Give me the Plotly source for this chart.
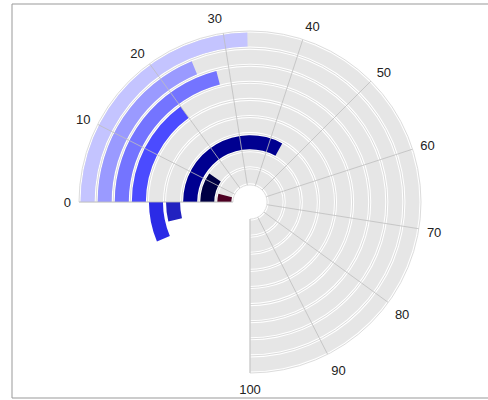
import plotly.graph_objects as go

# ---- data (inner ring first) ----
categories = ["c1", "c2", "c3", "c4", "c5", "c6", "c7", "c8", "c9"]
values = [5.5, 13, 44, -5, -8.5, 20, 28, 25, 33]
colors = ["#4d0022", "#000044", "#000090", "#2222c0", "#2b2be6",
          "#4b4bff", "#7474ff", "#9a9aff", "#c4c4ff"]
tick_values = [0, 10, 20, 30, 40, 50, 60, 70, 80, 90, 100]
tick_labels = [str(t) for t in tick_values]
scale_max = 100

# ---- geometry ----
SPAN = 270.0
K = SPAN / scale_max
W, H = 488, 400
CX, CY, R = 250, 202, 171
GAP = 0.18
n = len(categories)

dom_x = [(CX - R) / W, (CX + R) / W]
dom_y = [1 - (CY + R) / H, 1 - (CY - R) / H]

fig = go.Figure()

# background tracks
fig.add_trace(go.Barpolar(
    r=[1 - GAP] * n,
    base=[i + GAP / 2 for i in range(n)],
    theta=[SPAN / 2] * n,
    width=[SPAN] * n,
    marker=dict(color="#e6e6e6", line=dict(width=0)),
    hoverinfo="skip",
    subplot="polar",
    showlegend=False,
))

# value bars
fig.add_trace(go.Barpolar(
    r=[1 - GAP] * n,
    base=[i + GAP / 2 for i in range(n)],
    theta=[v * K / 2 for v in values],
    width=[abs(v) * K for v in values],
    marker=dict(color=colors, line=dict(width=0)),
    text=categories,
    subplot="polar2",
    showlegend=False,
))

# spokes on top
sr, st = [], []
for t in tick_values:
    sr += [0, n, None]
    st += [t * K, t * K, None]
fig.add_trace(go.Scatterpolar(
    r=sr, theta=st, mode="lines",
    line=dict(color="rgba(190,190,190,0.8)", width=1),
    hoverinfo="skip", subplot="polar2", showlegend=False,
))

common_ang = dict(rotation=180, direction="clockwise", thetaunit="degrees")

fig.update_layout(
    width=W, height=H,
    margin=dict(l=0, r=0, t=0, b=0),
    paper_bgcolor="white",
    font=dict(family="Liberation Sans, Arial, sans-serif", size=13, color="#222"),
    polar=dict(
        domain=dict(x=dom_x, y=dom_y),
        sector=[-90, 180],
        hole=0.1,
        bgcolor="rgba(0,0,0,0)",
        barmode="overlay",
        angularaxis=dict(
            **common_ang,
            showgrid=False, showticklabels=False, ticks="",
            showline=True, linecolor="#dcdcdc", linewidth=1,
        ),
        radialaxis=dict(
            range=[0, n],
            tickmode="array",
            tickvals=list(range(0, n + 1)),
            showgrid=True, gridcolor="#dcdcdc", gridwidth=1,
            showline=False, showticklabels=False, ticks="",
        ),
    ),
    polar2=dict(
        domain=dict(x=dom_x, y=dom_y),
        hole=0.1,
        bgcolor="rgba(0,0,0,0)",
        barmode="overlay",
        angularaxis=dict(
            **common_ang,
            tickmode="array",
            tickvals=[t * K for t in tick_values],
            ticktext=tick_labels,
            showgrid=False, showline=False,
            ticks="outside", ticklen=5, tickcolor="rgba(0,0,0,0)",
            tickfont=dict(size=13, color="#222"),
        ),
        radialaxis=dict(range=[0, n], visible=False, showgrid=False),
    ),
    shapes=[dict(type="rect", xref="paper", yref="paper",
                 x0=12 / W, x1=1.02, y0=1 - 398 / H, y1=1 - 4 / H,
                 line=dict(color="#999", width=1), fillcolor="rgba(0,0,0,0)",
                 layer="below")],
)

fig.write_html("out.html", config={"displayModeBar": False},
               post_script="document.body.style.margin='0';")
